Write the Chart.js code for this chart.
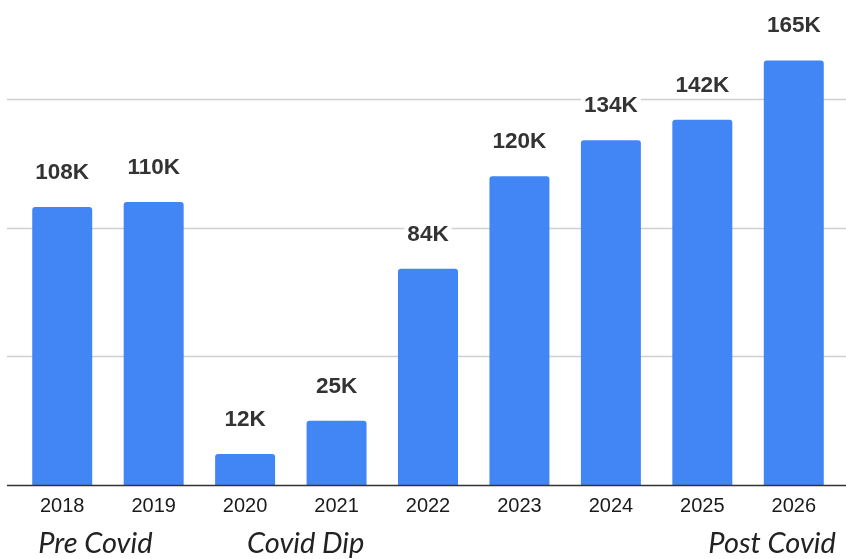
<!DOCTYPE html>
<html>
<head>
<meta charset="utf-8">
<script src="https://cdn.jsdelivr.net/npm/chart.js@4"></script>
<style>
  html, body { margin: 0; padding: 0; background: #fff; }
  #chart { display: block; }
</style>
</head>
<body>
<canvas id="chart" width="846" height="559"></canvas>
<script>
const years = ["2018", "2019", "2020", "2021", "2022", "2023", "2024", "2025", "2026"];
const values = [108, 110, 12, 25, 84, 120, 134, 142, 165];
const valueLabels = ["108K", "110K", "12K", "25K", "84K", "120K", "134K", "142K", "165K"];
const gridValues = [50, 100, 150];
const periods = ["Pre Covid", "Covid Dip", "Post Covid"];

// lignes de grille et ligne de base sur toute la largeur
const gridPlugin = {
    id: "fullGrid",
    beforeDatasetsDraw(chart) {
        const { ctx } = chart;
        const y = chart.scales.y;
        ctx.save();
        ctx.strokeStyle = "#cfcfcf";
        ctx.lineWidth = 1.5;
        gridValues.forEach(v => {
            const py = Math.round(y.getPixelForValue(v)) + 0.5;
            ctx.beginPath();
            ctx.moveTo(7, py);
            ctx.lineTo(chart.width, py);
            ctx.stroke();
        });
        ctx.restore();
    },
    afterDatasetsDraw(chart) {
        const { ctx } = chart;
        const py = chart.scales.y.getPixelForValue(0);
        ctx.save();
        ctx.strokeStyle = "#333";
        ctx.lineWidth = 1.5;
        ctx.beginPath();
        ctx.moveTo(7, py + 0.5);
        ctx.lineTo(chart.width, py + 0.5);
        ctx.stroke();
        ctx.restore();
    }
};

// étiquettes de valeur au-dessus des barres + périodes en bas
const labelPlugin = {
    id: "valueLabels",
    afterDraw(chart) {
        const { ctx } = chart;
        const meta = chart.getDatasetMeta(0);
        const x = chart.scales.x;
        ctx.save();
        ctx.font = "bold 22.5px 'Liberation Sans', Arial, sans-serif";
        ctx.textAlign = "center";
        ctx.textBaseline = "alphabetic";
        meta.data.forEach((bar, i) => {
            const txt = valueLabels[i];
            const w = ctx.measureText(txt).width;
            const by = bar.y - 28;
            ctx.fillStyle = "#fff";
            ctx.fillRect(bar.x - w / 2 - 3, by - 19, w + 6, 24);
            ctx.fillStyle = "#333";
            ctx.fillText(txt, bar.x, by);
        });

        ctx.font = "italic 29px Lato, sans-serif";
        ctx.fillStyle = "#222";
        ctx.textBaseline = "alphabetic";
        ctx.textAlign = "left";
        ctx.fillText(periods[0], x.getPixelForValue(0) - 24, 553);
        ctx.fillText(periods[1], x.getPixelForValue(2) + 2, 553);
        ctx.textAlign = "right";
        ctx.fillText(periods[2], x.getPixelForValue(8) + 42, 553);
        ctx.restore();
    }
};

new Chart(document.getElementById("chart").getContext("2d"), {
    type: "bar",
    data: {
        labels: years,
        datasets: [{
            data: values,
            backgroundColor: "#4285f4",
            barPercentage: 0.656,
            categoryPercentage: 1,
            borderRadius: { topLeft: 3, topRight: 3 },
            borderSkipped: "bottom"
        }]
    },
    options: {
        responsive: false,
        animation: false,
        events: [],
        layout: { padding: { left: 16.5, right: 6.5, top: 0, bottom: 0 } },
        plugins: {
            legend: { display: false },
            tooltip: { enabled: false }
        },
        scales: {
            y: {
                display: false,
                min: 0,
                max: 188.5
            },
            x: {
                grid: { display: false, drawTicks: false },
                border: { display: false },
                ticks: {
                    padding: 9,
                    color: "#1a1a1a",
                    font: { family: "'Liberation Sans', Arial, sans-serif", size: 20 }
                },
                afterFit(scale) { scale.height = 74; }
            }
        }
    },
    plugins: [gridPlugin, labelPlugin]
});
</script>
</body>
</html>
